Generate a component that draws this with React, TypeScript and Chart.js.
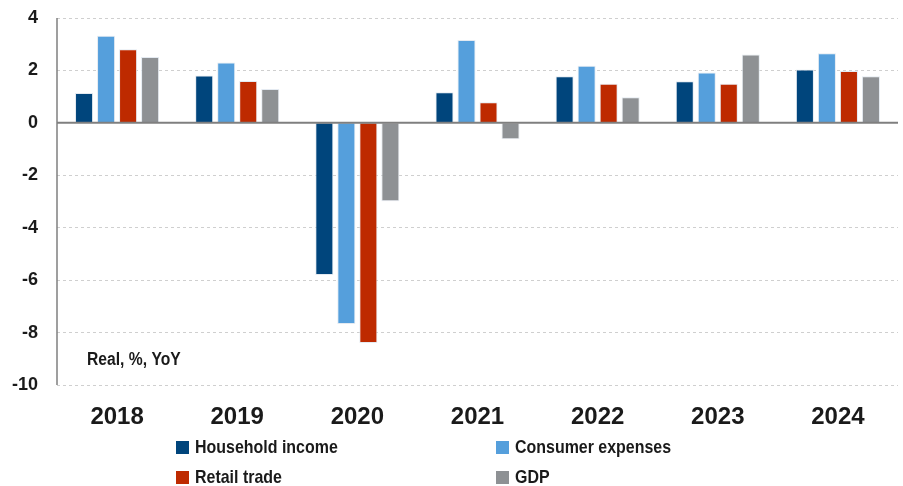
import React, { useEffect, useRef } from "react";
import { Chart, registerables } from "chart.js";

Chart.register(...registerables);

const categories = ["2018", "2019", "2020", "2021", "2022", "2023", "2024"];
const householdIncome = [1.14, 1.81, -5.8, 1.17, 1.78, 1.59, 2.04];
const consumerExpenses = [3.32, 2.3, -7.67, 3.16, 2.18, 1.92, 2.66];
const retailTrade = [2.81, 1.6, -8.4, 0.79, 1.49, 1.49, 1.98];
const gdp = [2.51, 1.29, -2.99, -0.63, 0.98, 2.61, 1.78];
const seriesNames = ["Household income", "Consumer expenses", "Retail trade", "GDP"];
const seriesColors = ["#00457C", "#559FDC", "#BE2A00", "#8E9194"];
const yTicks = [4, 2, 0, -2, -4, -6, -8, -10];
const unitNote = "Real, %, YoY";

const FONT = "'Liberation Sans', Arial, sans-serif";

export default function App() {
  const ref = useRef<HTMLCanvasElement | null>(null);

  useEffect(() => {
    if (!ref.current) return;
    const series = [householdIncome, consumerExpenses, retailTrade, gdp];
    const overlay = {
      id: "overlay",
      afterDatasetsDraw(chart: any) {
        const { ctx, chartArea, scales } = chart;
        const y0 = scales.y.getPixelForValue(0);
        ctx.save();
        ctx.strokeStyle = "#7f7f7f";
        ctx.lineWidth = 2;
        ctx.beginPath();
        ctx.moveTo(chartArea.left, y0);
        ctx.lineTo(chartArea.right, y0);
        ctx.stroke();
        ctx.lineWidth = 1.5;
        ctx.beginPath();
        ctx.moveTo(chartArea.left, chartArea.top);
        ctx.lineTo(chartArea.left, chartArea.bottom);
        ctx.stroke();
        ctx.fillStyle = "#1a1a1a";
        ctx.font = `bold 18px ${FONT}`;
        ctx.textBaseline = "middle";
        ctx.textAlign = "left";
        ctx.translate(chartArea.left + 30, scales.y.getPixelForValue(-9.05));
        ctx.scale(0.87, 1);
        ctx.fillText(unitNote, 0, 0);
        ctx.restore();
      },
    };
    const chart = new Chart(ref.current, {
      type: "bar",
      data: {
        labels: categories,
        datasets: series.map((d, i) => ({
          label: seriesNames[i],
          data: d,
          backgroundColor: seriesColors[i],
          borderColor: "rgba(225,232,240,0.9)",
          borderWidth: 1,
          categoryPercentage: 0.733,
          barPercentage: 0.82,
        })),
      },
      options: {
        animation: false,
        responsive: false,
        maintainAspectRatio: false,
        layout: { padding: { top: 18, right: 5, left: 0, bottom: 0 } },
        plugins: { legend: { display: false }, tooltip: { enabled: false } },
        scales: {
          x: {
            grid: { display: false, drawTicks: false },
            border: { display: false },
            ticks: {
              color: "#1a1a1a",
              padding: 18,
              font: { family: FONT, size: 24, weight: "bold" },
            },
            afterFit(scale: any) {
              scale.height = 101;
            },
          },
          y: {
            min: -10,
            max: 4,
            afterBuildTicks(scale: any) {
              scale.ticks = yTicks.map((v) => ({ value: v }));
            },
            grid: {
              drawTicks: true,
              tickLength: 19,
              tickColor: "rgba(0,0,0,0)",
              color: (c: any) => (c.tick && c.tick.value === 0 ? "rgba(0,0,0,0)" : "#cfcfcf"),
              lineWidth: 1,
            },
            border: { display: false, dash: [3, 3] },
            ticks: {
              color: "#1a1a1a",
              padding: 0,
              font: { family: FONT, size: 18, weight: "bold" },
            },
            afterFit(scale: any) {
              scale.width = 57;
            },
          },
        },
      },
      plugins: [overlay],
    });
    return () => chart.destroy();
  }, []);

  const legendPos = [
    { left: 176, top: 447 },
    { left: 496, top: 447 },
    { left: 176, top: 477 },
    { left: 496, top: 477 },
  ];

  return (
    <div style={{ position: "absolute", left: 0, top: 0, width: 903, height: 486, background: "#fff" }}>
      <canvas ref={ref} width={903} height={486} style={{ display: "block", width: 903, height: 486 }} />
      {seriesNames.map((name, i) => (
        <div
          key={name}
          style={{
            position: "absolute",
            left: legendPos[i].left,
            top: legendPos[i].top - 12,
            height: 24,
            display: "flex",
            alignItems: "center",
            fontFamily: FONT,
            fontWeight: "bold",
            fontSize: 19,
            color: "#1a1a1a",
            whiteSpace: "nowrap",
          }}
        >
          <span style={{ display: "inline-block", width: 13, height: 13, background: seriesColors[i], marginRight: 6 }} />
          <span style={{ display: "inline-block", transform: "scaleX(0.84)", transformOrigin: "left center" }}>{name}</span>
        </div>
      ))}
    </div>
  );
}
